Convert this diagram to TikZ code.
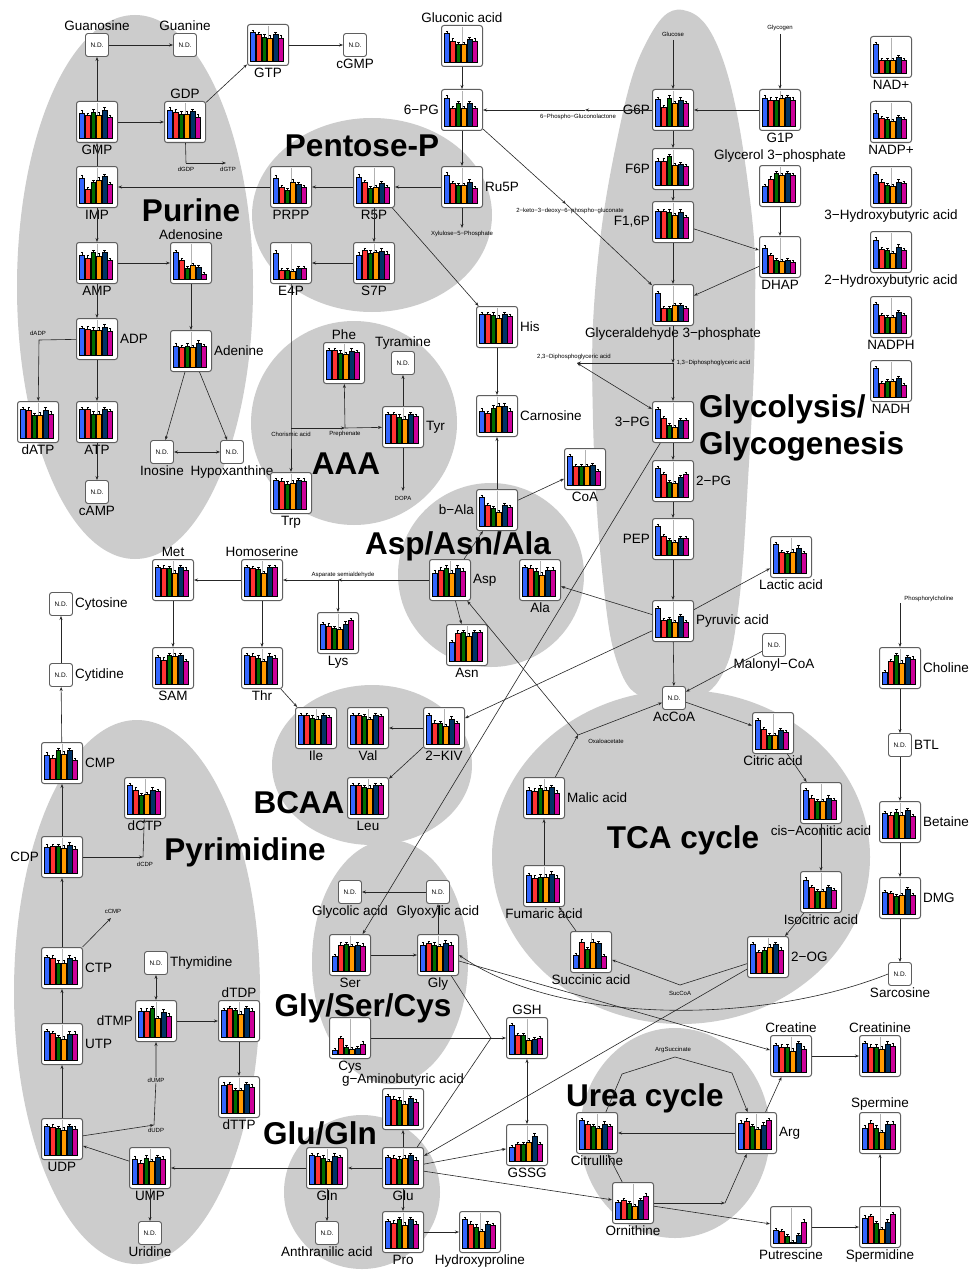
\documentclass[tikz,border=0pt]{standalone}
\usepackage{fontspec}
\setmainfont{Liberation Sans}
\usetikzlibrary{arrows.meta}

\definecolor{cbar1}{RGB}{51,102,255}
\definecolor{cbar2}{RGB}{255,51,51}
\definecolor{cbar3}{RGB}{0,110,0}
\definecolor{cbar4}{RGB}{255,153,0}
\definecolor{cbar5}{RGB}{0,51,102}
\definecolor{cbar6}{RGB}{204,0,153}
\definecolor{blobgray}{RGB}{204,204,204}
\definecolor{boxgray}{RGB}{95,95,95}

\newcommand\labtxt{\fontsize{13.5}{15}\selectfont}
\newcommand\bigtxt{\fontsize{31.5}{37}\selectfont\bfseries}
\newcommand\smtxt{\fontsize{6}{7}\selectfont}
\newcommand\ndtxt{\fontsize{6.5}{7}\selectfont}

\tikzset{
  chartbox/.style={draw=boxgray, line width=1pt, rounded corners=2.5pt, fill=white,
    minimum width=41pt, minimum height=41pt, inner sep=0pt},
  ndbox/.style={draw=boxgray, line width=0.9pt, rounded corners=2.5pt, fill=white,
    minimum width=23pt, minimum height=23pt, inner sep=0pt, font=\ndtxt},
  barrect/.style={draw=black, line width=0.5pt},
  errbar/.style={draw=black, line width=0.5pt},
  midline/.style={draw=black!30, line width=0.4pt},
  axisln/.style={draw=black, line width=0.5pt},
  link/.style={draw=black!85, line width=0.6pt},
  arr/.style={link, -{Stealth[length=4pt,width=3pt]}},
  dbl/.style={link, {Stealth[length=4pt,width=3pt]}-{Stealth[length=4pt,width=3pt]}},
  smtx/.style={font=\smtxt, inner sep=0.5pt},
  bigtx/.style={font=\bigtxt, inner sep=0pt},
  every label/.style={font=\labtxt, inner sep=1pt},
  label distance=1pt
}

% mini bar chart: [label], name, position, six heights
\newcommand\mchart[4][]{%
  \node[chartbox,#1] (#2) at (#3) {};
  \begin{scope}[shift={(#2.center)}]
    \draw[midline] (0,-19) -- (0,16);
    \foreach \h [count=\i] in {#4}{
      \draw[barrect, fill=cbar\i] ({-17.3+(\i-1)*5.6},16) rectangle ++(4.8,{-\h*29});
      \draw[errbar] ({-14.9+(\i-1)*5.6},{16-\h*29}) -- ++(0,-2.2) ++(-1.2,0) -- ++(2.4,0);
    }
    \draw[axisln] (-18,16) -- (16,16);
  \end{scope}}
% not detected box
\newcommand\ndnode[3][]{\node[ndbox,#1] (#2) at (#3) {N.D.};}

\begin{document}
\begin{tikzpicture}[x=1pt, y=-1pt]
\fill[white] (0,0) rectangle (969,1271);
\useasboundingbox (0,0) rectangle (969,1271);

% pathway areas
\fill[blobgray] (135,287) ellipse [x radius=118, y radius=272];
\fill[blobgray] (372,215) ellipse [x radius=120, y radius=97];
\fill[blobgray] (354,423) ellipse [x radius=103, y radius=102];
\fill[blobgray] (491,575) ellipse [x radius=93, y radius=92];
\fill[blobgray] plot[smooth cycle, tension=0.7] coordinates {(683,10) (723,60) (750,200)
  (755,320) (748,480) (738,610) (722,675) (690,700) (650,700) (620,670) (603,580)
  (593,420) (596,280) (617,140) (645,45)};
\fill[blobgray] (681,857) ellipse [x radius=189, y radius=167];
\fill[blobgray] (372,765) ellipse [x radius=100, y radius=80];
\fill[blobgray] (137,992) ellipse [x radius=123, y radius=272];
\fill[blobgray] (390,962) ellipse [x radius=78, y radius=122];
\fill[blobgray] (362,1192) ellipse [x radius=78, y radius=77];
\fill[blobgray] (675,1133) ellipse [x radius=95, y radius=105];

% pathway titles
\node[bigtx] (tPur) at (191,210) {Purine};
\node[bigtx] (tPen) at (362,146) {Pentose-P};
\node[bigtx] (tAAA) at (346,464) {AAA};
\node[bigtx] (tAsp) at (458,546) {Asp/Asn/Ala};
\node[bigtx, align=left, anchor=west] (tGlyc) at (699,428) {Glycolysis/\\Glycogenesis};
\node[bigtx] (tTCA) at (683,840) {TCA cycle};
\node[bigtx] (tBCAA) at (299,803) {BCAA};
\node[bigtx] (tPyr) at (245,852) {Pyrimidine};
\node[bigtx] (tGly) at (363,1008) {Gly/Ser/Cys};
\node[bigtx] (tGlu) at (320,1133) {Glu/Gln};
\node[bigtx] (tUrea) at (645,1098) {Urea cycle};

% purine
\ndnode[label=above:Guanosine]{Gsn}{97,45}
\ndnode[label=above:Guanine]{Gua}{185,45}
\mchart[label=below:GTP]{GTP}{268,45}{1,.93,.83,.8,.93,.8}
\ndnode[label=below:cGMP]{cGMP}{355,45}
\mchart[label=below:GMP]{GMP}{97,122}{.87,.77,.9,.8,.97,.7}
\mchart[label=above:GDP]{GDP}{185,122}{.97,.9,.83,.83,.93,.73}
\mchart[label=below:IMP]{IMP}{97,187}{.87,.47,.7,.8,.93,.63}
\mchart[label=below:PRPP]{PRPP}{291,187}{.87,.53,.43,.73,.63,.53}
\mchart[label=below:AMP]{AMP}{97,263}{.83,.73,.93,.8,.93,.63}
\mchart[label=above:Adenosine]{Ado}{191,263}{.93,.63,.37,.47,.4,.17}
\mchart[label=below:E4P]{E4P}{291,263}{.9,.3,.3,.27,.37,.37}
\mchart[label=right:ADP]{ADP}{97,339}{.93,.9,.87,.87,.97,.83}
\mchart[label=below:dATP]{dATP}{38,422}{1,.97,.77,.8,.97,.83}
\mchart[label=below:ATP]{ATP}{97,422}{1,1,.83,.83,1,.93}
\ndnode[label=below:cAMP]{cAMP}{97,492}
\mchart[label=right:Adenine]{Ade}{191,351}{.73,.67,.73,.67,.83,.7}
\ndnode[label=below:Inosine]{Ino}{162,452}
\ndnode[label=below:Hypoxanthine]{Hpx}{232,452}

% pentose phosphate
\mchart[label=above:Gluconic acid]{Glcn}{462,46}{1,.73,.6,.6,.77,.73}
\mchart[label=left:6−PG]{PGsix}{462,110}{.97,.6,.77,.6,.77,.6}
\mchart[label=right:Ru5P]{Ru5P}{462,187}{.97,.67,.6,.6,.73,.5}
\mchart[label=below:R5P]{R5P}{374,187}{.9,.7,.5,.53,.67,.53}
\mchart[label=below:S7P]{S7P}{374,263}{.83,1,.9,.93,.97,.87}

% glycolysis
\mchart[label=left:G6P]{G6P}{673,110}{.93,.63,.97,.77,.9,.77}
\mchart[label=below:G1P]{G1P}{780,110}{.97,.9,.9,.97,1,.9}
\mchart[label=left:F6P]{F6P}{673,169}{.83,.83,1,.67,.7,.63}
\mchart[label=above:Glycerol 3−phosphate]{GroP}{780,186}{.53,.8,1,.93,1,.93}
\mchart[label={left:{F1,6P}}]{FBP}{673,222}{.93,.93,.9,.77,.9,.7}
\mchart[label=below:DHAP]{DHAP}{780,257}{.87,.6,.43,.4,.43,.37}
\mchart[label=below:Glyceraldehyde 3−phosphate]{GAP}{673,305}{.95,.45,.45,.55,.55,.45}
\mchart[label=left:3−PG]{PGthree}{673,422}{1,.67,.43,.37,.6,.6}
\mchart[label=right:2−PG]{PGtwo}{673,481}{1,.77,.5,.47,.67,.77}
\mchart[label=left:PEP]{PEP}{673,539}{1,.63,.5,.43,.57,.57}
\mchart[label=right:Pyruvic acid]{Pyr}{673,621}{1,.57,.6,.5,.7,.5}
\mchart[label=below:Lactic acid]{Lac}{791,557}{1,.7,.67,.73,.87,.67}

% cofactors
\mchart[label=below:NAD+]{NAD}{891,57}{1,.43,.43,.43,.53,.43}
\mchart[label=below:NADP+]{NADP}{891,122}{.87,.67,.63,.57,.7,.63}
\mchart[label=below:3−Hydroxybutyric acid]{HBthree}{891,187}{1,.73,.6,.57,.73,.67}
\mchart[label=below:2−Hydroxybutyric acid]{HBtwo}{891,252}{.97,.63,.6,.5,.73,.6}
\mchart[label=below:NADPH]{NADPH}{891,317}{1,.6,.55,.55,.7,.6}
\mchart[label=below:NADH]{NADH}{891,381}{1,.47,.53,.53,.63,.4}

% aromatic amino acids
\mchart[label=above:Phe]{Phe}{344,363}{1,1,.9,.85,.97,.93}
\ndnode[label=above:Tyramine]{Tyra}{403,363}
\mchart[label=right:Tyr]{Tyr}{403,427}{1,1,.9,.83,1,.93}
\mchart[label=below:Trp]{Trp}{291,493}{1,.97,.87,.9,1,.97}
\mchart[label=right:His]{His}{497,327}{1,1,.97,.87,1,.93}
\mchart[label=right:Carnosine]{Carn}{497,416}{.73,.63,.83,.9,.9,.73}
\mchart[label=left:b−Ala]{bAla}{497,510}{1,.7,.6,.47,.7,.63}
\mchart[label=below:CoA]{CoA}{585,469}{1,.63,.63,.63,.67,.47}

% Asp family and BCAA
\mchart[label=right:Asp]{Asp}{450,580}{.8,.9,.97,.8,.97,.87}
\mchart[label=below:Ala]{Ala}{540,580}{1,.97,.87,.73,.9,.9}
\mchart[label=below:Asn]{Asn}{467,645}{.63,.97,1,.87,1,1}
\mchart[label=above:Met]{Met}{173,580}{1,.97,.95,.8,1,.9}
\mchart[label=above:Homoserine]{Hser}{262,580}{1,.95,.93,.77,1,1}
\mchart[label=below:SAM]{SAM}{173,668}{.93,.83,1,.97,1,.77}
\mchart[label=below:Thr]{Thr}{262,668}{1,.97,.9,.77,.97,.9}
\mchart[label=below:Lys]{Lys}{338,633}{.85,.8,.7,.67,.87,1}
\mchart[label=below:Ile]{Ile}{316,728}{1,1,.9,.87,1,.93}
\mchart[label=below:Val]{Val}{368,728}{1,1,.95,.85,1,.95}
\mchart[label=below:2−KIV]{KIV}{444,728}{1,.73,.7,.6,.87,.7}
\mchart[label=below:Leu]{Leu}{368,798}{1,1,.93,.9,1,1}

% TCA cycle
\ndnode[label=below:Malonyl−CoA]{MalCoA}{774,645}
\ndnode[label=below:AcCoA]{AcCoA}{674,698}
\mchart[label=below:Citric acid]{Cit}{773,733}{1,.67,.47,.47,.63,.57}
\mchart[label=below:cis−Aconitic acid]{cAco}{821,803}{1,.73,.6,.6,.73,.63}
\mchart[label=below:Isocitric acid]{Icit}{821,892}{.97,.7,.57,.57,.7,.6}
\mchart[label=right:2−OG]{OG}{768,957}{1,.7,.8,.9,1,.8}
\mchart[label=below:Succinic acid]{Suc}{591,952}{.45,.9,.65,.9,.85,.4}
\mchart[label=below:Fumaric acid]{Fum}{544,886}{.93,.83,.87,.87,.97,.83}
\mchart[label=right:Malic acid]{Mal}{544,798}{.83,.8,.9,.83,.93,.73}

% choline
\mchart[label=right:Choline]{Cho}{900,668}{.4,.77,1,.73,.93,.87}
\ndnode[label=right:BTL]{BTL}{900,745}
\mchart[label=right:Betaine]{Bet}{900,822}{.85,.8,.9,.8,.95,.75}
\mchart[label=right:DMG]{DMG}{900,898}{.75,.72,.62,.65,.85,.63}
\ndnode[label=below:Sarcosine]{Sar}{900,974}

% pyrimidine
\ndnode[label=right:Cytosine]{Cyto}{61,604}
\ndnode[label=right:Cytidine]{Cyti}{61,675}
\mchart[label=right:CMP]{CMP}{62,763}{.83,.73,1,.87,1,.63}
\mchart[label=below:dCTP]{dCTP}{145,798}{1,.83,.63,.67,.83,.77}
\mchart[label=left:CDP]{CDP}{62,857}{.9,.93,.93,.87,.97,.83}
\mchart[label=right:CTP]{CTP}{62,968}{.93,.9,.73,.73,.9,.83}
\ndnode[label=right:Thymidine]{Thy}{156,963}
\mchart[label=left:dTMP]{dTMP}{156,1021}{.9,.9,1,.63,.87,.73}
\mchart[label=above:dTDP]{dTDP}{239,1021}{.93,1,.93,.8,1,.9}
\mchart[label=right:UTP]{UTP}{62,1044}{1,.93,.77,.73,.9,.9}
\mchart[label=below:dTTP]{dTTP}{239,1097}{.97,1,.77,.77,1,.9}
\mchart[label=below:UDP]{UDP}{62,1139}{1,.97,.93,.87,1,.9}
\mchart[label=below:UMP]{UMP}{150,1168}{.87,.73,.9,.77,.93,.87}
\ndnode[label=below:Uridine]{Uri}{150,1233}

% Gly/Ser/Cys and Glu/Gln
\ndnode[label=below:Glycolic acid]{Glyc}{350,892}
\ndnode[label=below:Glyoxylic acid]{Glyox}{438,892}
\mchart[label=below:Ser]{Ser}{350,955}{.5,.9,.93,.85,.9,.87}
\mchart[label=below:Gly]{Gly}{438,955}{.9,.95,.9,.85,.97,.9}
\mchart[label=below:Cys]{Cys}{350,1038}{.13,.55,.22,.15,.2,.35}
\mchart[label=above:GSH]{GSH}{527,1038}{1,.63,.63,.47,.5,.53}
\mchart[label=above:g−Aminobutyric acid]{GABA}{403,1109}{1,.9,.87,.73,.93,.8}
\mchart[label=below:Glu]{Glu}{403,1168}{.93,.9,.87,.9,1,.83}
\mchart[label=below:Gln]{Gln}{327,1168}{1,.97,.9,.77,.97,.93}
\ndnode[label=below:Anthranilic acid]{Anth}{327,1233}
\mchart[label=below:Pro]{Pro}{403,1232}{.93,.87,1,.8,1,.83}
\mchart[label=below:Hydroxyproline]{HyPro}{480,1232}{1,.83,.73,.57,.83,.77}
\mchart[label=below:GSSG]{GSSG}{527,1145}{.47,.57,.57,.63,.87,.57}

% urea cycle and polyamines
\mchart[label=below:Citrulline]{Citr}{597,1133}{1,.87,.77,.7,.87,.77}
\mchart[label=below:Ornithine]{Orn}{633,1203}{.57,.63,.53,.43,.63,.8}
\mchart[label=right:Arg]{Arg}{756,1133}{.9,.97,.77,.67,.83,1}
\mchart[label=above:Creatine]{Crt}{791,1056}{.93,.87,.87,.73,1,.8}
\mchart[label=above:Creatinine]{Crn}{880,1056}{1,.87,.87,.8,.97,.9}
\mchart[label=above:Spermine]{Spm}{880,1133}{.73,.9,.73,.57,.87,.87}
\mchart[label=below:Putrescine]{Put}{791,1227}{.43,.4,.23,.03,.27,.73}
\mchart[label=below:Spermidine]{Spd}{880,1227}{.87,.93,.67,.47,.73,1}

% intermediates
\coordinate (dgdp) at (186,163);
\coordinate (dgtp) at (226,163);
\coordinate (dadp) at (39,340);
\coordinate (pgl) at (585,110);
\coordinate (xu5p) at (462,228);
\coordinate (kdpg) at (566,204);
\coordinate (glc) at (673,40);
\coordinate (glyg) at (780,34);
\coordinate (bpgA) at (673,363);
\coordinate (bpgB) at (577,363);
\coordinate (chor) at (291,428);
\coordinate (preph) at (345,428);
\coordinate (dopa) at (403,491);
\coordinate (asa) at (338,580);
\coordinate (oaa) at (578,735);
\coordinate (succoa) at (680,985);
\coordinate (gshm) at (491,1038);
\coordinate (asA) at (622,1074);
\coordinate (asuc) at (675,1057);
\coordinate (asB) at (732,1073);
\coordinate (ornB) at (725,1203);
\coordinate (pcho) at (900,603);
\coordinate (dcdp) at (143,857);
\coordinate (ccmp) at (111,918);
\coordinate (dudp) at (154,1125);

\node[smtx] (tdgdp) at (186,169) {dGDP};
\node[smtx] (tdgtp) at (228,169) {dGTP};
\node[smtx] (tdadp) at (38,333) {dADP};
\node[smtx] (tpgl) at (578,117) {6−Phospho−Gluconolactone};
\node[smtx] (txu5p) at (462,234) {Xylulose−5−Phosphate};
\node[smtx] (tkdpg) at (570,211) {2−keto−3−deoxy−6−phospho−gluconate};
\node[smtx] (tglc) at (673,34) {Glucose};
\node[smtx] (tglyg) at (780,28) {Glycogen};
\node[smtx] (tbpgB) at (574,357) {2,3−Diphosphoglyceric acid};
\node[smtx, anchor=west] (tbpgA) at (676,363) {1,3−Diphosphoglyceric acid};
\node[smtx] (tchor) at (291,434) {Chorismic acid};
\node[smtx] (tpreph) at (345,434) {Prephenate};
\node[smtx] (tdopa) at (403,498) {DOPA};
\node[smtx] (tasa) at (343,575) {Asparate semialdehyde};
\node[smtx] (toaa) at (606,741) {Oxaloacetate};
\node[smtx] (tsuccoa) at (680,993) {SucCoA};
\node[smtx] (tasuc) at (673,1050) {ArgSuccinate};
\node[smtx] (tpcho) at (929,599) {Phosphorylcholine};
\node[smtx] (tdcdp) at (145,864) {dCDP};
\node[smtx] (tccmp) at (113,911) {cCMP};
\node[smtx, fill=blobgray] (tdump) at (156,1080) {dUMP};
\node[smtx] (tdudp) at (156,1130) {dUDP};

% purine reactions
\draw[arr] (GMP) -- (Gsn);
\draw[arr] (Gsn) -- (Gua);
\draw[arr] (GMP) -- (GDP);
\draw[arr] (GDP) -- (GTP);
\draw[arr] (GTP) -- (cGMP);
\draw[link] (GDP) -- (dgdp);
\draw[arr] (dgdp) -- (dgtp);
\draw[arr] (IMP) -- (GMP);
\draw[arr] (PRPP) -- (IMP);
\draw[arr] (IMP) -- (AMP);
\draw[arr] (AMP) -- (Ado);
\draw[arr] (AMP) -- (ADP);
\draw[arr] (Ado) -- (Ade);
\draw[arr] (ADP) -- (dadp) -- (dATP);
\draw[arr] (ADP) -- (ATP);
\draw[arr] (ATP) -- (cAMP);
\draw[arr] (Ade) -- (Ino);
\draw[arr] (Ade) -- (Hpx);
\draw[dbl] (Ino) -- (Hpx);

% pentose phosphate reactions
\draw[arr] (Glcn) -- (PGsix);
\draw[arr] (G6P) -- (pgl);
\draw[arr] (pgl) -- (PGsix);
\draw[arr] (PGsix) -- (Ru5P);
\draw[arr] (Ru5P) -- (R5P);
\draw[arr] (Ru5P) -- (xu5p);
\draw[arr] (R5P) -- (PRPP);
\draw[arr] (R5P) -- (S7P);
\draw[arr] (S7P) -- (E4P);
\draw[arr] (R5P) -- (His);
\draw[arr] (PGsix) -- (kdpg);
\draw[arr] (kdpg) -- (GAP);

% glycolysis reactions
\draw[arr] (glc) -- (G6P);
\draw[arr] (glyg) -- (G1P);
\draw[arr] (G1P) -- (G6P);
\draw[arr] (G6P) -- (F6P);
\draw[arr] (F6P) -- (FBP);
\draw[arr] (FBP) -- (GAP);
\draw[arr] (FBP) -- (DHAP);
\draw[arr] (GroP) -- (DHAP);
\draw[arr] (DHAP) -- (GAP);
\draw[arr] (GAP) -- (bpgA);
\draw[arr] (bpgA) -- (PGthree);
\draw[arr] (bpgA) -- (bpgB);
\draw[dbl] (bpgB) -- (PGthree);
\draw[arr] (PGthree) -- (PGtwo);
\draw[arr] (PGtwo) -- (PEP);
\draw[arr] (PEP) -- (Pyr);
\draw[arr] (PGthree) -- (Ser);
\draw[arr] (Pyr) -- (Lac);
\draw[arr] (Pyr) -- (Ala);
\draw[arr] (Pyr) -- (KIV);
\draw[arr] (Pyr) -- (AcCoA);

% TCA reactions
\draw[arr] (MalCoA) -- (AcCoA);
\draw[arr] (AcCoA) -- (Cit);
\draw[arr] (Cit) -- (cAco);
\draw[arr] (cAco) -- (Icit);
\draw[arr] (Icit) -- (OG);
\draw[link] (OG) -- (succoa);
\draw[arr] (succoa) -- (Suc);
\draw[arr] (Suc) -- (Fum);
\draw[arr] (Fum) -- (Mal);
\draw[arr] (Mal) -- (oaa);
\draw[arr] (oaa) -- (AcCoA);
\draw[arr] (oaa) -- (Asp);
\draw[arr] (OG) -- (Glu);

% amino acid reactions
\draw[arr] (Asp) -- (asa);
\draw[arr] (asa) -- (Hser);
\draw[arr] (asa) -- (Lys);
\draw[arr] (Hser) -- (Met);
\draw[arr] (Met) -- (SAM);
\draw[arr] (Hser) -- (Thr);
\draw[arr] (Thr) -- (Ile);
\draw[arr] (KIV) -- (Val);
\draw[arr] (KIV) -- (Leu);
\draw[arr] (Asp) -- (Asn);
\draw[arr] (Asp) -- (bAla);
\draw[arr] (bAla) -- (Carn);
\draw[arr] (His) -- (Carn);
\draw[arr] (bAla) -- (CoA);
\draw[arr] (E4P) -- (chor) -- (Trp);
\draw[arr] (chor) -- (preph);
\draw[arr] (preph) -- (Tyr);
\draw[arr] (preph) -- (Phe);
\draw[arr] (Tyr) -- (Tyra);
\draw[arr] (Tyr) -- (dopa);

% Gly/Ser/Cys and Glu/Gln reactions
\draw[arr] (Ser) -- (Gly);
\draw[arr] (Gly) -- (Glyox);
\draw[arr] (Glyox) -- (Glyc);
\draw[link] (Gly) -- (gshm);
\draw[link] (Cys) -- (gshm);
\draw[link] (Glu) -- (gshm);
\draw[arr] (gshm) -- (GSH);
\draw[dbl] (GSH) -- (GSSG);
\draw[arr] (Glu) -- (GSSG);
\draw[arr] (Sar.west) .. controls (760,1025) and (560,1025) .. (Gly.east);
\draw[arr] (Gly) -- (Crt);
\draw[arr] (Glu) -- (Gln);
\draw[arr] (Glu) -- (GABA);
\draw[arr] (Glu) -- (Pro);
\draw[arr] (Pro) -- (HyPro);
\draw[arr] (Glu) -- (Orn);
\draw[arr] (Gln) -- (UMP);
\draw[arr] (Gln) -- (Anth);

% urea cycle reactions
\draw[arr] (Arg) -- (Citr);
\draw[arr] (Citr) -- (asA) -- (asuc) -- (asB) -- (Arg);
\draw[arr] (Orn) -- (Citr);
\draw[arr] (Orn) -- (ornB);
\draw[arr] (ornB) -- (Arg);
\draw[arr] (Orn) -- (Put);
\draw[arr] (Put) -- (Spd);
\draw[arr] (Spd) -- (Spm);
\draw[arr] (Arg) -- (Crt);
\draw[arr] (Crt) -- (Crn);

% choline reactions
\draw[arr] (pcho) -- (Cho);
\draw[arr] (Cho) -- (BTL);
\draw[arr] (BTL) -- (Bet);
\draw[arr] (Bet) -- (DMG);
\draw[arr] (DMG) -- (Sar);

% pyrimidine reactions
\draw[arr] (UMP) -- (UDP);
\draw[arr] (UDP) -- (UTP);
\draw[arr] (UTP) -- (CTP);
\draw[arr] (CTP) -- (CDP);
\draw[arr] (CDP) -- (CMP);
\draw[arr] (CMP) -- (Cyti);
\draw[arr] (Cyti) -- (Cyto);
\draw[arr] (CDP) -- (dcdp);
\draw[arr] (dcdp) -- (dCTP);
\draw[arr] (CTP) -- (ccmp);
\draw[arr] (UDP) -- (dudp);
\draw[arr] (dudp) -- (tdump) -- (dTMP);
\draw[dbl] (dTMP) -- (Thy);
\draw[arr] (dTMP) -- (dTDP);
\draw[arr] (dTDP) -- (dTTP);
\draw[arr] (UMP) -- (Uri);
\end{tikzpicture}
\end{document}
